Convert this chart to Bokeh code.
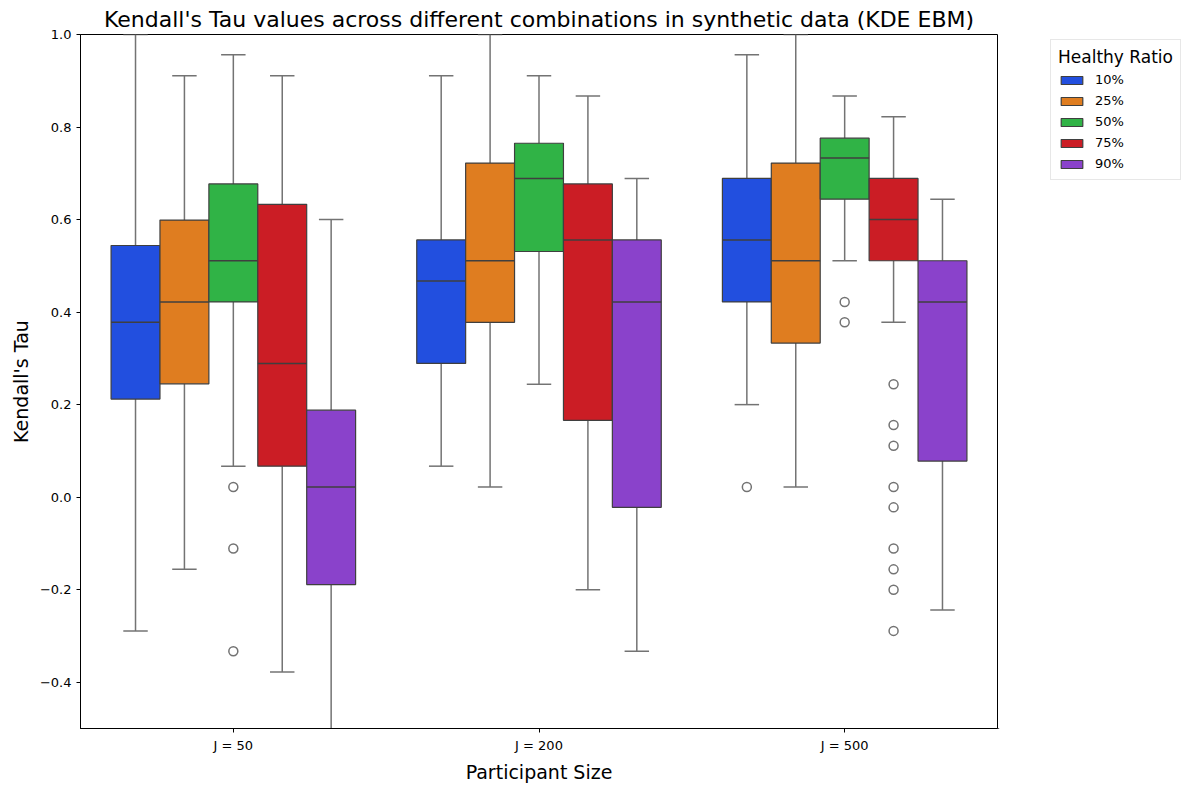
from bokeh.plotting import figure
from bokeh.layouts import row
from bokeh.models import ColumnDataSource, FactorRange, FixedTicker, Legend, LegendItem
from bokeh.transform import dodge
from bokeh.embed import file_html
from bokeh.resources import INLINE

groups = ["J = 50", "J = 200", "J = 500"]
ratios = ["10%", "25%", "50%", "75%", "90%"]
colors = ["#224fdf", "#df7d20", "#30b346", "#cb1d25", "#8a42cb"]

# rows: ratio (10%,25%,50%,75%,90%), columns: J = 50, 200, 500
whisk_lo = [[-0.289, 0.067, 0.200],
            [-0.156, 0.022, 0.022],
            [0.067, 0.244, 0.511],
            [-0.378, -0.200, 0.378],
            [-0.600, -0.333, -0.244]]
q1 = [[0.212, 0.289, 0.422],
      [0.245, 0.378, 0.333],
      [0.422, 0.531, 0.644],
      [0.067, 0.166, 0.511],
      [-0.189, -0.022, 0.078]]
median = [[0.378, 0.467, 0.556],
          [0.422, 0.511, 0.511],
          [0.511, 0.689, 0.733],
          [0.289, 0.556, 0.600],
          [0.022, 0.422, 0.422]]
q3 = [[0.544, 0.556, 0.689],
      [0.599, 0.722, 0.722],
      [0.677, 0.765, 0.776],
      [0.633, 0.677, 0.689],
      [0.188, 0.556, 0.511]]
whisk_hi = [[1.000, 0.911, 0.956],
            [0.911, 1.000, 1.000],
            [0.956, 0.911, 0.867],
            [0.911, 0.867, 0.822],
            [0.600, 0.689, 0.644]]
# outliers per ratio: (group, value)
outlier_group = [["J = 500"],
                 [],
                 ["J = 50", "J = 50", "J = 50", "J = 500", "J = 500"],
                 ["J = 500"] * 9,
                 []]
outlier_value = [[0.022],
                 [],
                 [0.022, -0.111, -0.333, 0.422, 0.378],
                 [0.244, 0.156, 0.111, 0.022, -0.022, -0.111, -0.156, -0.200, -0.289],
                 []]

y_ticks = [-0.4, -0.2, 0.0, 0.2, 0.4, 0.6, 0.8, 1.0]

fig = figure(width=998, height=785, x_range=FactorRange(*groups, range_padding=0),
             y_range=(-0.5, 1.0), output_backend="svg", toolbar_location=None,
             title="Kendall's Tau values across different combinations in synthetic data (KDE EBM)")
fig.min_border_left = 80
fig.min_border_right = 1
fig.min_border_top = 34
fig.min_border_bottom = 55

fig.title.align = "center"
fig.title.text_font = "DejaVu Sans"
fig.title.text_font_style = "normal"
fig.title.text_font_size = "22px"
fig.title.text_color = "black"
fig.title.standoff = 6

fig.xgrid.visible = False
fig.ygrid.visible = False
fig.outline_line_color = "black"
fig.outline_line_width = 1

for ax in (fig.xaxis[0], fig.yaxis[0]):
    ax.axis_line_color = "black"
    ax.major_tick_line_color = "black"
    ax.major_tick_out = 4
    ax.major_tick_in = 0
    ax.minor_tick_line_color = None
    ax.major_label_text_font = "DejaVu Sans"
    ax.major_label_text_font_size = "13px"
    ax.major_label_text_color = "black"
    ax.axis_label_text_font = "DejaVu Sans"
    ax.axis_label_text_font_style = "normal"
    ax.axis_label_text_font_size = "19px"
    ax.axis_label_text_color = "black"

fig.xaxis.axis_label = "Participant Size"
fig.yaxis.axis_label = "Kendall's Tau"
fig.yaxis.ticker = FixedTicker(ticks=y_ticks)
fig.yaxis.major_label_overrides = {t: ("%.1f" % t).replace("-", "\u2212") for t in y_ticks}

n = len(ratios)
bw = 0.8 / n
whisk_col = "#737373"
edge_col = "#3f3f3f"

for i, r in enumerate(ratios):
    off = -0.4 + bw * (i + 0.5)
    src = ColumnDataSource(dict(g=groups, lo=whisk_lo[i], q1=q1[i], med=median[i],
                                q3=q3[i], hi=whisk_hi[i]))
    xc = dodge("g", off, range=fig.x_range)
    xl = dodge("g", off - bw / 4, range=fig.x_range)
    xr = dodge("g", off + bw / 4, range=fig.x_range)
    # whiskers
    fig.segment(x0=xc, y0="q3", x1=xc, y1="hi", source=src, line_color=whisk_col, line_width=1.5)
    fig.segment(x0=xc, y0="q1", x1=xc, y1="lo", source=src, line_color=whisk_col, line_width=1.5)
    fig.segment(x0=xl, y0="hi", x1=xr, y1="hi", source=src, line_color=whisk_col, line_width=1.5)
    fig.segment(x0=xl, y0="lo", x1=xr, y1="lo", source=src, line_color=whisk_col, line_width=1.5)
    # box
    fig.vbar(x=xc, top="q3", bottom="q1", width=bw, source=src,
             fill_color=colors[i], line_color=edge_col, line_width=1.2)
    # median
    xml = dodge("g", off - bw / 2, range=fig.x_range)
    xmr = dodge("g", off + bw / 2, range=fig.x_range)
    fig.segment(x0=xml, y0="med", x1=xmr, y1="med", source=src, line_color=edge_col, line_width=1.5)
    # outliers
    osrc = ColumnDataSource(dict(g=outlier_group[i], v=outlier_value[i]))
    fig.scatter(x=xc, y="v", source=osrc, size=9, marker="circle", fill_color="white",
                line_color=whisk_col, line_width=1.5)

# legend panel (separate figure to the right of the plot frame)
leg_fig = figure(width=188, height=785, output_backend="svg", toolbar_location=None,
                 x_axis_location=None, y_axis_location=None, x_range=(0, 1), y_range=(0, 1))
leg_fig.min_border = 0
leg_fig.outline_line_color = None
leg_fig.xgrid.visible = False
leg_fig.ygrid.visible = False
items = []
for i, r in enumerate(ratios):
    # off-screen proxy glyph, only used for the legend swatch
    rr = leg_fig.vbar(x=[-5], top=[-5], bottom=[-6], width=0.1, fill_color=colors[i],
                      line_color=edge_col, line_width=1.2)
    items.append(LegendItem(label=r, renderers=[rr]))

legend = Legend(items=items, title="Healthy Ratio", location=(52, 548))
legend.title_text_font = "DejaVu Sans"
legend.title_text_font_size = "17px"
legend.title_text_font_style = "normal"
legend.title_text_color = "black"
legend.title_standoff = 4
legend.label_text_font = "DejaVu Sans"
legend.label_text_font_size = "13px"
legend.label_text_color = "black"
legend.glyph_width = 27
legend.glyph_height = 10
legend.label_height = 17
legend.spacing = 4
legend.label_standoff = 10
legend.padding = 7
legend.margin = 0
legend.border_line_color = "#d0d0d0"
legend.background_fill_alpha = 0.9
leg_fig.add_layout(legend, "center")

p = row(fig, leg_fig, spacing=0)

open("out.html", "w").write(file_html(p, INLINE))
